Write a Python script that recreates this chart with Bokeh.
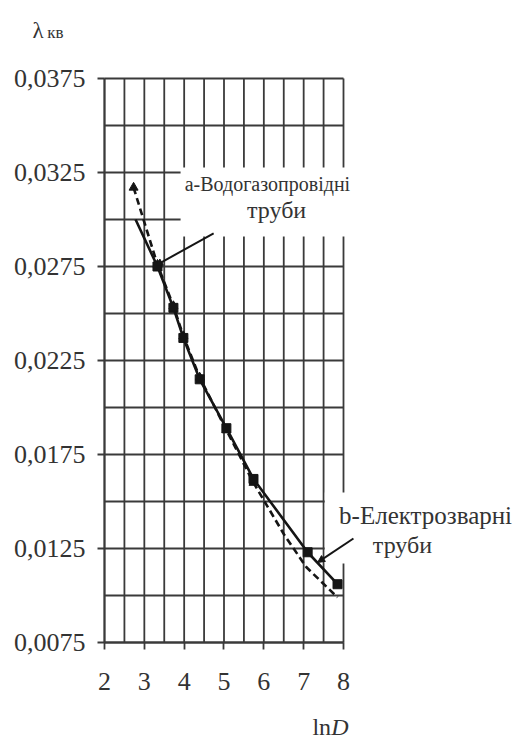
from bokeh.plotting import figure
from bokeh.models import (Range1d, FixedTicker, CustomJSTickFormatter, Label,
                          Arrow, NormalHead, LinearAxis)
from bokeh.embed import file_html
from bokeh.resources import INLINE

# ---- data ----
x_ticks = [2, 3, 4, 5, 6, 7, 8]
y_ticks = [0.0075, 0.0125, 0.0175, 0.0225, 0.0275, 0.0325, 0.0375]
x_grid = [2, 2.5, 3, 3.5, 4, 4.5, 5, 5.5, 6, 6.5, 7, 7.5, 8]
y_grid = [0.0075, 0.01, 0.0125, 0.015, 0.0175, 0.02, 0.0225, 0.025,
          0.0275, 0.03, 0.0325, 0.035, 0.0375]

# a - water-gas pipes (dashed, triangles)
a_lnD = [2.73, 3.33, 3.73, 3.98, 4.39, 5.06, 5.74, 6.52, 7.07, 7.85]
a_lam = [0.0317, 0.0276, 0.0254, 0.0238, 0.0216, 0.0188, 0.0160, 0.0132, 0.0115, 0.0099]

# b - electric-welded pipes (solid, squares)
b_lnD = [2.78, 3.33, 3.73, 3.98, 4.39, 5.06, 5.74, 7.10, 7.85]
b_lam = [0.0300, 0.0275, 0.0253, 0.0237, 0.0215, 0.0189, 0.0162, 0.0123, 0.0106]

label_a = ["a-Водогазопровідні", "труби"]
label_b = ["b-Електрозварні", "труби"]

FONT = "'Liberation Serif'"
TXT = "#333333"
GRID = "#3a3a3a"
INK = "#151515"

X0, X1 = 2.0, 8.0
Y0, Y1 = 0.0075, 0.0375

# the frame covers the whole canvas; the chart box is 2..8 x 0.0075..0.0375
p = figure(width=520, height=740, min_border=0,
           x_range=Range1d(-0.61088, 12.44352),
           y_range=Range1d(0.0022872, 0.0416489),
           x_axis_location=None, y_axis_location=None,
           output_backend="svg", toolbar_location=None,
           background_fill_color="white", border_fill_color="white")
p.outline_line_color = None
p.xgrid.visible = False
p.ygrid.visible = False

# grid lines of the chart box
p.segment(x0=x_grid, y0=[Y0] * len(x_grid), x1=x_grid, y1=[Y1] * len(x_grid),
          line_color=GRID, line_width=1.8)
p.segment(x0=[X0] * len(y_grid), y0=y_grid, x1=[X1] * len(y_grid), y1=y_grid,
          line_color=GRID, line_width=1.8)

# axes fixed at the edges of the chart box
xax = LinearAxis(fixed_location=Y0, bounds=(X0, X1), ticker=FixedTicker(ticks=x_ticks))
yax = LinearAxis(fixed_location=X0, bounds=(Y0, Y1), ticker=FixedTicker(ticks=y_ticks),
                 formatter=CustomJSTickFormatter(
                     code="return tick.toFixed(4).replace('.', ',');"))
for ax in (xax, yax):
    ax.axis_line_color = GRID
    ax.axis_line_width = 1.8
    ax.major_tick_line_color = GRID
    ax.major_tick_line_width = 1.8
    ax.major_tick_out = 7
    ax.major_tick_in = 0
    ax.minor_tick_line_color = None
    ax.major_label_text_font = FONT
    ax.major_label_text_font_size = "26px"
    ax.major_label_text_color = TXT
xax.major_label_standoff = 24
yax.major_label_standoff = 12
p.add_layout(xax, "below")
p.add_layout(yax, "left")

# white boxes behind the labels (cover the grid)
p.quad(left=[3.91], right=[8.1], top=[0.03277], bottom=[0.0291],
       fill_color="white", line_color=None)
p.quad(left=[7.53], right=[8.1], top=[0.01548], bottom=[0.0117],
       fill_color="white", line_color=None)

# series a (dashed, triangles)
p.line(a_lnD, a_lam, line_color=INK, line_width=2.6, line_dash="7 4")
p.scatter(a_lnD[:7], a_lam[:7], marker="triangle", size=9, fill_color=INK,
          line_color=INK)

# series b (solid, squares)
p.line(b_lnD, b_lam, line_color=INK, line_width=2.6)
p.scatter(b_lnD[1:], b_lam[1:], marker="square", size=9, fill_color=INK,
          line_color=INK)

# leader lines
p.add_layout(Arrow(x_start=4.74, y_start=0.02926, x_end=3.28, y_end=0.02755,
                   line_color=INK, line_width=2,
                   end=NormalHead(size=7, fill_color=INK, line_color=INK)))
p.add_layout(Arrow(x_start=8.25, y_start=0.01303, x_end=7.35, y_end=0.01176,
                   line_color=INK, line_width=2,
                   end=NormalHead(size=7, fill_color=INK, line_color=INK)))


def lab(x, y, text, size="22px", align="center", style="normal"):
    p.add_layout(Label(x=x, y=y, text=text, text_font=FONT, text_font_size=size,
                       text_color=TXT, text_align=align, text_baseline="alphabetic",
                       text_font_style=style))


lab(6.09, 0.0318617, label_a[0], size="20px")
lab(6.32, 0.0304787, label_a[1], size="24px")
lab(10.06, 0.0142553, label_b[0], size="25px")
lab(9.48, 0.0126596, label_b[1], size="24px")

# axis titles
lab(0.19, 0.0400532, "λ", size="23px", align="left")
lab(0.56, 0.0399202, "кв", size="17px", align="left")
lab(7.22, 0.0029787, "ln", size="24px", align="left")
lab(7.69, 0.0029787, "D", size="24px", align="left", style="italic")

open("out.html", "w").write(file_html(p, INLINE))
